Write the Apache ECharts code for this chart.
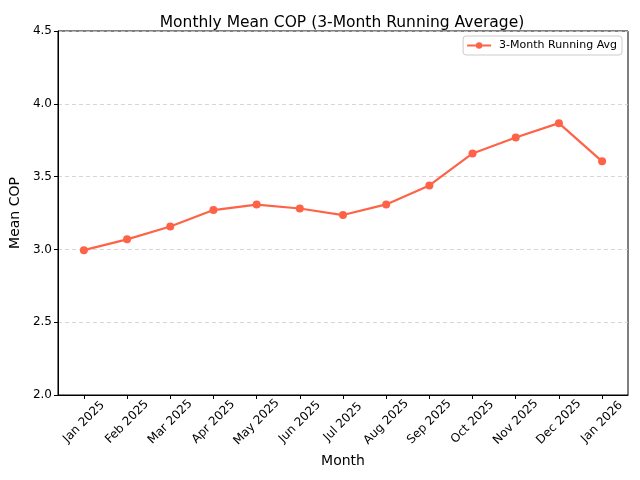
<!DOCTYPE html>
<html>
<head>
<meta charset="utf-8">
<script src="https://cdn.jsdelivr.net/npm/echarts@6/dist/echarts.min.js"></script>
<style>html,body{margin:0;padding:0;background:#fff}#c{width:640px;height:480px}</style>
</head>
<body>
<div id="c"></div>
<script>
var categories = ['Jan 2025','Feb 2025','Mar 2025','Apr 2025','May 2025','Jun 2025','Jul 2025','Aug 2025','Sep 2025','Oct 2025','Nov 2025','Dec 2025','Jan 2026'];
var runningAvg = [2.995, 3.069, 3.157, 3.270, 3.308, 3.281, 3.236, 3.309, 3.439, 3.659, 3.769, 3.867, 3.605];
var yTicks = [2.0, 2.5, 3.0, 3.5, 4.0, 4.5];
var tickIdx = categories.map(function(_, i){ return i; });

var font = 'DejaVu Sans';
var chart = echarts.init(document.getElementById('c'), null, {renderer: 'canvas'});
chart.setOption({
  animation: false,
  backgroundColor: '#fff',
  textStyle: {fontFamily: font},
  title: {
    text: 'Monthly Mean COP (3-Month Running Average)',
    left: 337, top: 10, textAlign: 'center',
    textStyle: {fontFamily: font, fontSize: 15.5, fontWeight: 'normal', color: '#000'}
  },
  legend: {
    right: 18, top: 36,
    itemWidth: 24, itemHeight: 8, itemGap: 8,
    padding: [4, 5, 4, 3],
    borderColor: '#cccccc', borderWidth: 1, borderRadius: 3,
    textStyle: {fontFamily: font, fontSize: 11, color: '#000', padding: [0, 0, 0, 3]},
    data: ['3-Month Running Avg']
  },
  grid: {left: 56, right: 12, top: 31, bottom: 85, show: true, borderColor: '#000', borderWidth: 1, containLabel: false},
  xAxis: {
    type: 'value', min: -0.6, max: 12.6,
    name: 'Month', nameLocation: 'middle', nameGap: 58,
    nameTextStyle: {fontFamily: font, fontSize: 14, color: '#000'},
    axisLine: {show: true, onZero: false, lineStyle: {color: '#000'}},
    axisTick: {show: true, length: 4, lineStyle: {color: '#000'}, customValues: tickIdx},
    axisLabel: {
      rotate: 45, fontFamily: font, fontSize: 12, color: '#000', margin: 27,
      align: 'center', verticalAlign: 'middle',
      customValues: tickIdx,
      formatter: function(v){ return categories[Math.round(v)] || ''; }
    },
    splitLine: {show: false}
  },
  yAxis: {
    type: 'value', min: 2.0, max: 4.5, interval: 0.5,
    name: 'Mean COP', nameLocation: 'middle', nameGap: 29,
    nameTextStyle: {fontFamily: font, fontSize: 14, color: '#000'},
    axisLine: {show: true, onZero: false, lineStyle: {color: '#000'}},
    axisTick: {show: true, length: 4, lineStyle: {color: '#000'}},
    axisLabel: {fontFamily: font, fontSize: 12, color: '#000', margin: 6,
      formatter: function(v){ return v.toFixed(1); }},
    splitLine: {show: true, lineStyle: {color: '#cccccc', type: [4, 3], width: 0.8}}
  },
  series: [{
    name: '3-Month Running Avg',
    type: 'line',
    data: runningAvg.map(function(v, i){ return [i, v]; }),
    symbol: 'circle', symbolSize: 8,
    lineStyle: {color: '#FF6347', width: 2.2},
    itemStyle: {color: '#FF6347'}
  }]
});
</script>
</body>
</html>
